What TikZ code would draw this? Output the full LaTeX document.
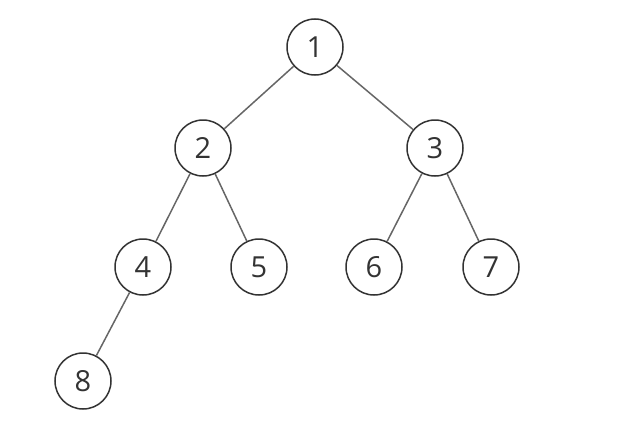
\documentclass[tikz,border=0pt]{standalone}
\usepackage{fontspec}
\setmainfont{Open Sans}
\begin{document}
\begin{tikzpicture}[x=1pt,y=-1pt,
  tnode/.style={circle,draw=black!80,line width=1.5pt,minimum size=56pt,inner sep=0pt,font=\fontsize{29}{30}\selectfont,text=black!80},
  tedge/.style={draw=black!60,line width=1.5pt}]
\useasboundingbox (0,0) rectangle (635,439);
\node[tnode] (n1) at (315,47) {1};
\node[tnode] (n2) at (203,148) {2};
\node[tnode] (n3) at (435,148) {3};
\node[tnode] (n4) at (143,267) {4};
\node[tnode] (n5) at (259,267) {5};
\node[tnode] (n6) at (374,267) {6};
\node[tnode] (n7) at (491,267) {7};
\node[tnode] (n8) at (83,381) {8};
\draw[tedge] (n1) -- (n2);
\draw[tedge] (n1) -- (n3);
\draw[tedge] (n2) -- (n4);
\draw[tedge] (n2) -- (n5);
\draw[tedge] (n3) -- (n6);
\draw[tedge] (n3) -- (n7);
\draw[tedge] (n4) -- (n8);
\end{tikzpicture}
\end{document}
